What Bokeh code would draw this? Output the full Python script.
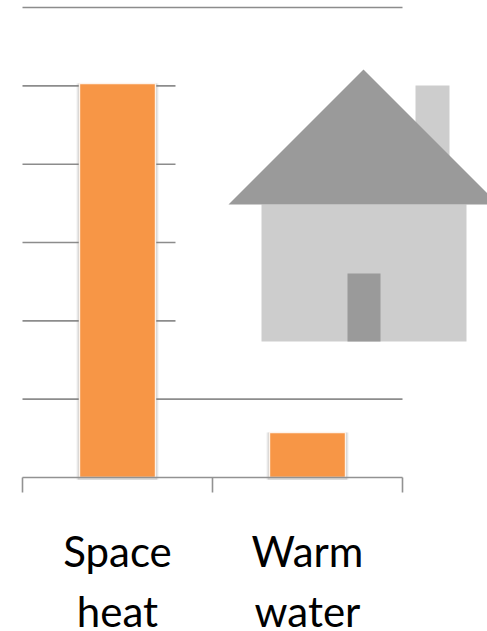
from bokeh.embed import file_html
from bokeh.models import (BoxAnnotation, ColumnDataSource, FixedTicker,
                          LinearAxis, PolyAnnotation, Range1d)
from bokeh.plotting import figure
from bokeh.resources import INLINE

categories = ["Space\nheat", "Warm\nwater"]
demand = [5.03, 0.575]
positions = [0.5, 1.5]
grid_ticks = [1, 2, 3, 4, 5, 6]
group_edges = [0, 1, 2]

W, H = 487, 631
ORIGIN_X, ORIGIN_Y = 22, 477      # where x=0, y=0 falls on the page
GROUP_PX, UNIT_PX = 190, 78.33    # pixels per category and per y unit
GRID = "#8c8c8c"
AXIS = "#929292"
BAR = "#F79646"
WALL = "#CDCDCD"
ROOF = "#9A9A9A"

p = figure(width=W, height=H, output_backend="svg", toolbar_location=None,
           x_range=Range1d(-ORIGIN_X / GROUP_PX, (W - ORIGIN_X) / GROUP_PX),
           y_range=Range1d(-(H - ORIGIN_Y) / UNIT_PX, ORIGIN_Y / UNIT_PX),
           x_axis_location=None, y_axis_location=None,
           min_border=0, outline_line_color=None,
           background_fill_color="white", border_fill_color="white")

p.grid.visible = False

# Horizontal rules span only the two category groups
p.segment(x0=[group_edges[0]] * len(grid_ticks), x1=[group_edges[-1]] * len(grid_ticks),
          y0=grid_ticks, y1=grid_ticks, line_color=GRID, line_width=1.6)

# Backdrop of the house picture hides the upper rules behind it
p.add_layout(BoxAnnotation(left=175, right=W, top=H - 24, bottom=H - 345,
                           left_units="screen", right_units="screen",
                           top_units="screen", bottom_units="screen",
                           fill_color="white", fill_alpha=1, line_color=None,
                           level="annotation"))

source = ColumnDataSource(dict(x=positions, top=demand))

# Soft shadow built from widening translucent bars, then a white rim;
# the darker lower edge falls just under the baseline
for width, alpha in ((0.436, 0.07), (0.426, 0.12), (0.416, 0.20)):
    p.vbar(x="x", top="top", width=width, bottom=-0.03, source=source,
           fill_color="#808080", fill_alpha=alpha, line_color=None)
p.vbar(x="x", top="top", width=0.4, bottom=0, source=source,
       fill_color=BAR, line_color="#FEF3EA", line_width=1.4)

# Bracket-style ticks between the two groups
edge_axis = LinearAxis(ticker=FixedTicker(ticks=group_edges), fixed_location=0,
                       bounds=(group_edges[0], group_edges[-1]),
                       axis_line_color=AXIS, axis_line_width=1.6,
                       major_tick_line_color=AXIS, major_tick_line_width=1.6,
                       major_tick_in=0, major_tick_out=15,
                       minor_tick_line_color=None,
                       major_label_text_color=None,
                       major_label_text_font_size="1px", major_label_standoff=0)
p.add_layout(edge_axis, "below")

# Category names sit on their own tick-free axis under the brackets
label_axis = LinearAxis(ticker=FixedTicker(ticks=positions), fixed_location=0,
                        major_label_overrides=dict(zip(positions, categories)),
                        axis_line_color=None, major_tick_line_color=None,
                        minor_tick_line_color=None,
                        major_tick_in=0, major_tick_out=0,
                        major_label_text_font="Lato",
                        major_label_text_font_size="42px",
                        major_label_text_color="#000000",
                        major_label_standoff=48)
p.add_layout(label_axis, "below")

# House drawing, given in page pixels measured from the top edge
def house_part(xs, ys, colour):
    p.add_layout(PolyAnnotation(xs=xs, ys=[H - y for y in ys],
                                xs_units="screen", ys_units="screen",
                                fill_color=colour, fill_alpha=1, line_color=None,
                                level="overlay"))

house_part([415, 449, 449, 415], [85, 85, 160, 160], WALL)
house_part([261, 466, 466, 261], [204, 204, 341, 341], WALL)
house_part([228, 363, 488, 488, 228], [204, 69, 194, 204, 204], ROOF)
house_part([347, 380, 380, 347], [273, 273, 341, 341], ROOF)

open("out.html", "w").write(file_html(p, INLINE))
